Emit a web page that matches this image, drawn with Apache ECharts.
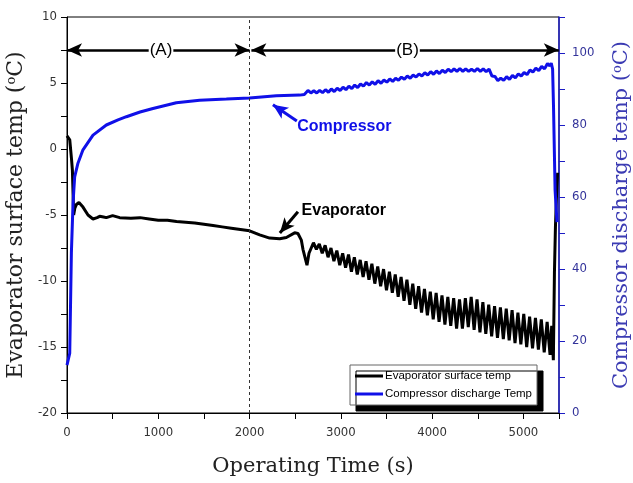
<!DOCTYPE html>
<html>
<head>
<meta charset="utf-8">
<title>Evaporator / Compressor temperature</title>
<script src="https://cdn.jsdelivr.net/npm/echarts@6/dist/echarts.min.js"></script>
<style>
  html, body { margin: 0; padding: 0; background: #fff; }
  #chart { width: 633px; height: 483px; }
</style>
</head>
<body>
<div id="chart"></div>
<script>
// evaporator surface temp [time s, degC] (left axis)
var evaporatorTemp = [
  [0,1.0],[11,1.0],[30,0.7],[50,-0.8],[59,-1.6],[66,-3.3],[73,-5.0],[85,-4.5],[103,-4.2],[131,-4.05],[175,-4.4],[230,-5.0],[285,-5.3],[330,-5.2],[358,-5.1],[400,-5.15],[431,-5.2],[500,-5.05],[577,-5.2],[700,-5.25],[800,-5.2],[900,-5.3],[1000,-5.4],[1100,-5.4],[1200,-5.5],[1300,-5.55],[1400,-5.6],[1500,-5.7],[1600,-5.8],[1700,-5.9],[1800,-6.0],[1900,-6.1],[2000,-6.2],[2111,-6.5],[2220,-6.75],[2330,-6.8],[2403,-6.7],[2494,-6.35],[2530,-6.4],[2567,-6.9],[2585,-7.6],[2629,-8.8],[2651,-7.9],
  [2700,-7.1],[2732,-7.6],[2764,-7.2],[2796,-7.9],[2828,-7.3],[2860,-8.2],[2892,-7.5],[2924,-8.5],[2956,-7.7],[2988,-8.8],[3020,-7.9],[3052,-9.0],[3084,-8.0],[3116,-9.3],[3148,-8.2],[3180,-9.5],[3212,-8.4],[3244,-9.7],[3276,-8.5],[3308,-9.9],[3340,-8.7],[3372,-10.2],[3404,-8.9],[3436,-10.4],[3468,-9.1],[3500,-10.7],[3532,-9.3],[3564,-10.9],[3596,-9.5],[3628,-11.2],[3660,-9.7],[3692,-11.5],[3724,-9.9],[3756,-11.8],[3788,-10.2],[3820,-12.1],[3852,-10.4],[3884,-12.4],[3916,-10.6],[3948,-12.6],[3980,-10.8],[4012,-12.9],[4044,-10.9],[4076,-13.1],[4108,-11.1],[4140,-13.3],[4172,-11.2],[4204,-13.4],[4236,-11.3],[4268,-13.6],[4300,-11.4],[4332,-13.6],[4364,-11.3],[4396,-13.5],[4428,-11.2],[4460,-13.7],[4492,-11.4],[4524,-13.9],[4556,-11.6],[4588,-14.0],[4620,-11.8],[4652,-14.2],[4684,-11.9],[4716,-14.3],[4748,-12.0],[4780,-14.4],[4812,-12.1],[4844,-14.5],[4876,-12.2],[4908,-14.7],[4940,-12.4],[4972,-14.8],[5004,-12.5],[5036,-15.0],[5068,-12.7],[5100,-15.1],[5132,-12.8],[5164,-15.2],[5196,-12.9],[5228,-15.4],[5260,-13.1],[5292,-15.6],[5310,-13.4],[5328,-16.0],[5340,-9.4],[5351,-5.9],[5366,-2.9],[5375,-1.8]
];

// compressor discharge temp [time s, degC] (right axis)
var compressorTemp = [
  [0,13.3],[20,13.3],[30,16.6],[48,44.4],[66,58.3],[84,65.6],[120,69.4],[175,73.1],[285,77.2],[431,80.0],[559,81.4],[651,82.3],[800,83.6],[942,84.6],[1198,86.2],[1453,86.9],[1746,87.2],[2000,87.5],[2293,88.1],[2549,88.3],[2600,88.5],
  [2640,89.6],[2672,88.9],[2704,89.5],[2736,88.9],[2768,89.6],[2800,89.0],[2832,89.8],[2864,89.1],[2896,90.0],[2928,89.3],[2960,90.2],[2992,89.6],[3024,90.5],[3056,89.8],[3088,90.8],[3120,90.1],[3152,91.1],[3184,90.4],[3216,91.4],[3248,90.8],[3280,91.8],[3312,91.1],[3344,92.0],[3376,91.3],[3408,92.3],[3440,91.6],[3472,92.5],[3504,91.9],[3536,92.8],[3568,92.1],[3600,93.0],[3632,92.4],[3664,93.3],[3696,92.7],[3728,93.6],[3760,93.0],[3792,93.9],[3824,93.3],[3856,94.2],[3888,93.6],[3920,94.5],[3952,93.9],[3984,94.8],[4016,94.1],[4048,95.0],[4080,94.3],[4112,95.2],[4144,94.6],[4176,95.5],[4208,94.8],[4240,95.6],[4272,94.9],[4304,95.7],[4336,94.9],[4368,95.6],[4400,94.9],[4432,95.5],[4464,94.9],[4496,95.7],[4528,94.9],[4560,95.6],[4592,94.8],[4624,95.5],[4656,93.6],[4688,93.5],[4720,92.3],[4752,93.0],[4784,92.4],[4816,93.4],[4848,92.7],[4880,93.8],[4912,93.1],[4944,94.2],[4976,93.6],[5008,94.6],[5040,94.0],[5072,95.3],[5104,94.7],[5136,95.8],[5168,95.1],[5200,96.3],[5232,95.6],[5264,97.1],[5290,96.4],[5305,97.2],[5320,95.5],[5330,85.0],[5347,62.0],[5368,53.0]
];

// phase markers: label, label x, arrow start, arrow end
var phaseLabels = ['(A)', '(B)'];
var phaseLabelX = [1030, 3730];
var phaseFrom = [0, 2020];
var phaseTo = [2000, 5388];
var phaseY = 7.5;
var phaseSplit = 2000;

// callouts: text anchor and arrow tail -> head
var evapCallout = { text: 'Evaporator', at: [2570, -4.67], tail: [2530, -4.75], head: [2332, -6.36] };
var compCallout = { text: 'Compressor', at: [2522, 79.5], tail: [2518, 81.1], head: [2256, 85.6] };

var tickFont = "'Liberation Sans Narrow', 'DejaVu Sans Condensed', 'Liberation Sans', sans-serif";
var serifFont = "'DejaVu Serif', serif";
var sansFont = "'Liberation Sans', Arial, sans-serif";

var chart = echarts.init(document.getElementById('chart'));

var phaseLines = [];
var phaseMarks = [];
for (var i = 0; i < phaseLabels.length; i++) {
    phaseLines.push([
        { coord: [phaseFrom[i], phaseY], symbol: 'arrow', lineStyle: { color: '#000', width: 2.5, type: 'solid' } },
        { coord: [phaseTo[i], phaseY], symbol: 'arrow' }
    ]);
    phaseMarks.push({
        name: phaseLabels[i], coord: [phaseLabelX[i], phaseY],
        label: { show: true, position: 'inside', formatter: '{b}', fontFamily: sansFont,
                 fontSize: 17, color: '#000', backgroundColor: '#fff', padding: [0, 1] }
    });
}

var option = {
    animation: false,
    backgroundColor: '#fff',
    grid: { left: 67, right: 74, top: 17, bottom: 70, outerBoundsMode: 'none',
            show: true, borderColor: '#000', borderWidth: 1, backgroundColor: 'transparent' },
    legend: {
        orient: 'vertical', left: 350, top: 365,
        data: [{ name: 'Evaporator surface temp', icon: 'rect' }, { name: 'Compressor discharge Temp', icon: 'rect' }],
        backgroundColor: '#fff', borderColor: '#666', borderWidth: 1,
        shadowColor: '#000', shadowBlur: 0, shadowOffsetX: 6, shadowOffsetY: 6,
        padding: [5, 5, 5, 5], itemGap: 6, itemWidth: 28, itemHeight: 3,
        textStyle: { fontFamily: sansFont, fontSize: 11.5, color: '#000', padding: [0, 0, 0, -3] }
    },
    xAxis: {
        type: 'value', min: 0, max: 5390, interval: 1000,
        name: 'Operating Time (s)', nameLocation: 'middle', nameGap: 43,
        nameTextStyle: { fontFamily: serifFont, fontSize: 21, color: '#222' },
        axisLine: { show: true, onZero: false, lineStyle: { color: '#000', width: 1 } },
        axisTick: { show: true, inside: false, length: 6, lineStyle: { color: '#000' } },
        minorTick: { show: true, splitNumber: 2, length: 6, lineStyle: { color: '#000' } },
        axisLabel: { fontFamily: tickFont, fontSize: 13, color: '#333', margin: 13, showMaxLabel: false,
                     formatter: function (v) { return String(v); } },
        splitLine: { show: false }
    },
    yAxis: [{
        type: 'value', min: -20, max: 10, interval: 5, position: 'left',
        name: 'Evaporator surface temp ({sup|o}C)', nameLocation: 'middle', nameGap: 35, nameRotate: 90,
        nameTextStyle: { fontFamily: serifFont, fontSize: 22, color: '#222',
                         rich: { sup: { fontFamily: serifFont, fontSize: 13, color: '#222', verticalAlign: 'top', padding: [0, 0, 9, 0] } } },
        axisLine: { show: true, onZero: false, lineStyle: { color: '#000', width: 1 } },
        axisTick: { show: true, inside: false, length: 6, lineStyle: { color: '#000' } },
        minorTick: { show: true, splitNumber: 2, length: 6, lineStyle: { color: '#000' } },
        axisLabel: { fontFamily: tickFont, fontSize: 13, color: '#333', margin: 10 },
        splitLine: { show: false }
    }, {
        type: 'value', min: 0, max: 110, interval: 20, position: 'right',
        name: 'Compressor discharge temp ({sup|o}C)', nameLocation: 'middle', nameGap: 52, nameRotate: 90,
        nameTextStyle: { fontFamily: serifFont, fontSize: 21, color: '#3b3bb3',
                         rich: { sup: { fontFamily: serifFont, fontSize: 13, color: '#3b3bb3', verticalAlign: 'top', padding: [0, 0, 9, 0] } } },
        axisLine: { show: true, onZero: false, lineStyle: { color: '#1c1cc4', width: 1.5 } },
        axisTick: { show: true, inside: false, length: 6, lineStyle: { color: '#1c1cc4' } },
        minorTick: { show: true, splitNumber: 2, length: 6, lineStyle: { color: '#1c1cc4' } },
        axisLabel: { fontFamily: tickFont, fontSize: 13, color: '#33339a', margin: 13, showMaxLabel: false },
        splitLine: { show: false }
    }],
    series: [{
        name: 'Evaporator surface temp',
        type: 'line', yAxisIndex: 0, data: evaporatorTemp,
        showSymbol: false, symbol: 'none',
        lineStyle: { color: '#000', width: 3 },
        itemStyle: { color: '#000' },
        z: 3,
        markLine: {
            silent: true, animation: false, symbol: ['none', 'none'], symbolSize: [10, 15],
            label: { show: false },
            data: [
                [{ coord: [phaseSplit, -20], lineStyle: { color: '#333', width: 1, type: [3, 3] } }, { coord: [phaseSplit, 10] }],
                [{ coord: evapCallout.tail, lineStyle: { color: '#000', width: 3, type: 'solid' } }, { coord: evapCallout.head, symbol: 'arrow' }]
            ].concat(phaseLines)
        },
        markPoint: {
            silent: true, animation: false, symbol: 'circle', symbolSize: 0,
            data: phaseMarks.concat([{
                name: evapCallout.text, coord: evapCallout.at,
                label: { show: true, position: 'right', distance: 0, formatter: '{b}', fontFamily: sansFont,
                         fontSize: 16, fontWeight: 'bold', color: '#000' }
            }])
        }
    }, {
        name: 'Compressor discharge Temp',
        type: 'line', yAxisIndex: 1, data: compressorTemp,
        showSymbol: false, symbol: 'none',
        lineStyle: { color: '#1010e8', width: 3 },
        itemStyle: { color: '#1010e8' },
        z: 4,
        markLine: {
            silent: true, animation: false, symbol: ['none', 'arrow'], symbolSize: [10, 15],
            label: { show: false },
            data: [
                [{ coord: compCallout.tail, lineStyle: { color: '#1010e8', width: 3, type: 'solid' } }, { coord: compCallout.head }]
            ]
        },
        markPoint: {
            silent: true, animation: false, symbol: 'circle', symbolSize: 0,
            data: [{
                name: compCallout.text, coord: compCallout.at,
                label: { show: true, position: 'right', distance: 0, formatter: '{b}', fontFamily: sansFont,
                         fontSize: 16, fontWeight: 'bold', color: '#1010e8' }
            }]
        }
    }]
};

chart.setOption(option);
</script>
</body>
</html>
